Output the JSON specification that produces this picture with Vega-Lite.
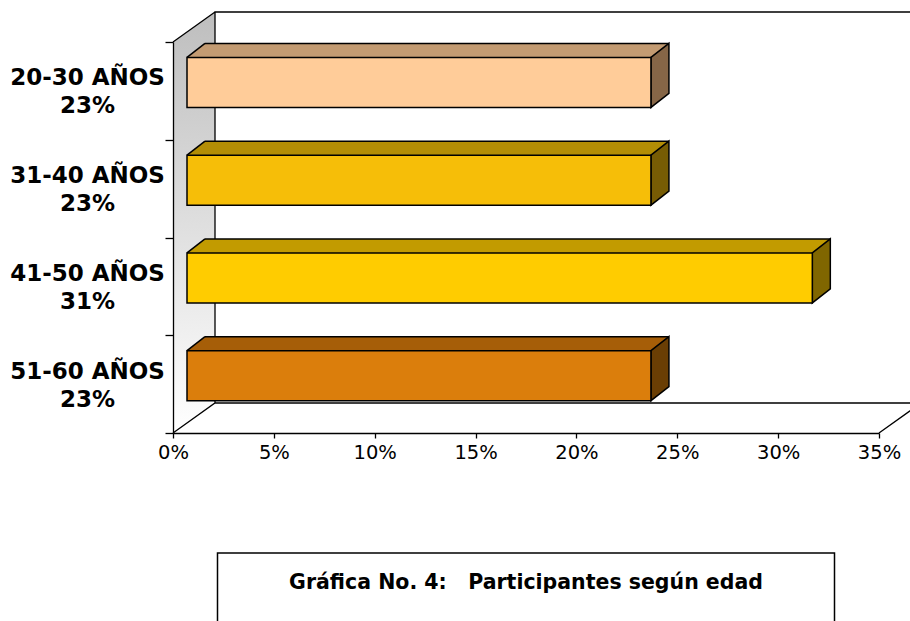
{
  "$schema": "https://vega.github.io/schema/vega-lite/v6.json",
  "background": "white",
  "padding": {"left": 9, "top": 9, "right": 0, "bottom": 0},
  "config": {"view": {"stroke": null}, "font": "DejaVu Sans"},
  "bounds": "flush",
  "center": true,
  "spacing": 120,
  "datasets": {
    "edades": [
      {"edad": "20-30 AÑOS\n23%", "pct": 23},
      {"edad": "31-40 AÑOS\n23%", "pct": 23},
      {"edad": "41-50 AÑOS\n31%", "pct": 31},
      {"edad": "51-60 AÑOS\n23%", "pct": 23}
    ]
  },
  "vconcat": [
    {
      "width": 706,
      "height": 391,
      "data": {"name": "edades"},
      "resolve": {"scale": {"fill": "independent"}},
      "layer": [
        {
          "transform": [{"filter": {"field": "edad", "equal": "51-60 AÑOS\n23%"}}],
          "mark": {"type": "point", "shape": "M0,0 L0,-391 L42,-421 L42,-30 Z", "size": 4, "filled": true, "opacity": 1, "strokeWidth": 0, "yOffset": 48.875,
            "fill": {"gradient": "linear", "x1": 0, "y1": 0, "x2": 0, "y2": 1, "stops": [{"offset": 0, "color": "#BEBEBE"}, {"offset": 1, "color": "#FFFFFF"}]}},
          "encoding": {
            "x": {"datum": 0, "type": "quantitative", "title": null},
            "y": {"field": "edad", "type": "nominal", "sort": null, "title": null}
          }
        },
        {
          "transform": [{"filter": {"field": "edad", "equal": "51-60 AÑOS\n23%"}}],
          "mark": {"type": "point", "shape": "M0,0 L42,-30 L748,-30 M706,0 L748,-30 M42,-30 L42,-421 L748,-421 M0,-391 L42,-421", "size": 4, "filled": false, "fill": null, "opacity": 1, "stroke": "black", "strokeWidth": 1.3, "yOffset": 48.875},
          "encoding": {
            "x": {"datum": 0, "type": "quantitative", "title": null},
            "y": {"field": "edad", "type": "nominal", "sort": null, "title": null}
          }
        },
        {
          "mark": {"type": "bar", "height": 14, "xOffset": 32, "x2Offset": 32, "yOffset": -40.5, "opacity": 1, "strokeWidth": 0},
          "encoding": {
            "x": {"field": "pct", "type": "quantitative", "stack": null, "title": null},
            "x2": {"datum": 0},
            "y": {"field": "edad", "type": "nominal", "sort": null, "title": null},
            "fill": {"field": "edad", "type": "nominal", "legend": null,
              "scale": {"domain": ["20-30 AÑOS\n23%", "31-40 AÑOS\n23%", "41-50 AÑOS\n31%", "51-60 AÑOS\n23%"], "range": ["#C39B72", "#B38D05", "#C29B00", "#A65E08"]}}
          }
        },
        {
          "mark": {"type": "point", "shape": "M0,0 L18,-14 L20,-14 L20,0 Z", "size": 4, "filled": true, "opacity": 1, "strokeWidth": 0, "xOffset": 14, "yOffset": -33.5},
          "encoding": {
            "x": {"datum": 0, "type": "quantitative", "title": null},
            "y": {"field": "edad", "type": "nominal", "sort": null, "title": null},
            "fill": {"field": "edad", "type": "nominal", "legend": null,
              "scale": {"domain": ["20-30 AÑOS\n23%", "31-40 AÑOS\n23%", "41-50 AÑOS\n31%", "51-60 AÑOS\n23%"], "range": ["#C39B72", "#B38D05", "#C29B00", "#A65E08"]}}
          }
        },
        {
          "mark": {"type": "point", "shape": "M0,0 L18,-14", "size": 4, "filled": false, "fill": null, "opacity": 1, "stroke": "black", "strokeWidth": 1.5, "xOffset": 14, "yOffset": -33.5},
          "encoding": {
            "x": {"datum": 0, "type": "quantitative", "title": null},
            "y": {"field": "edad", "type": "nominal", "sort": null, "title": null}
          }
        },
        {
          "mark": {"type": "bar", "height": 1.5, "xOffset": 32, "x2Offset": 32, "yOffset": -47.5, "opacity": 1, "strokeWidth": 0, "fill": "black"},
          "encoding": {
            "x": {"field": "pct", "type": "quantitative", "stack": null, "title": null},
            "x2": {"datum": 0},
            "y": {"field": "edad", "type": "nominal", "sort": null, "title": null}
          }
        },
        {
          "mark": {"type": "point", "shape": "M0,0 L18,-14 L18,36 L0,50 Z", "size": 4, "filled": true, "opacity": 1, "stroke": "black", "strokeWidth": 1.5, "xOffset": 14, "yOffset": -33.5},
          "encoding": {
            "x": {"field": "pct", "type": "quantitative", "title": null},
            "y": {"field": "edad", "type": "nominal", "sort": null, "title": null},
            "fill": {"field": "edad", "type": "nominal", "legend": null,
              "scale": {"domain": ["20-30 AÑOS\n23%", "31-40 AÑOS\n23%", "41-50 AÑOS\n31%", "51-60 AÑOS\n23%"], "range": ["#866647", "#775C04", "#806600", "#6A3E04"]}}
          }
        },
        {
          "mark": {"type": "bar", "height": 50, "xOffset": 14, "x2Offset": 14, "yOffset": -8.5, "opacity": 1, "stroke": "black", "strokeWidth": 1.5},
          "encoding": {
            "x": {"field": "pct", "type": "quantitative", "stack": null, "title": null,
              "scale": {"domain": [0, 35], "nice": false, "zero": true},
              "axis": {"values": [0, 5, 10, 15, 20, 25, 30, 35], "labelExpr": "datum.value + '%'", "grid": false, "zindex": 1,
                "domainColor": "black", "domainWidth": 1.3, "tickColor": "black", "tickSize": 5, "tickWidth": 1.3,
                "labelFont": "DejaVu Sans", "labelFontSize": 19.5, "labelColor": "black", "labelPadding": 5,
                "labelFlush": false, "labelOverlap": false, "title": null}},
            "x2": {"datum": 0},
            "y": {"field": "edad", "type": "nominal", "sort": null, "title": null,
              "scale": {"domain": ["20-30 AÑOS\n23%", "31-40 AÑOS\n23%", "41-50 AÑOS\n31%", "51-60 AÑOS\n23%"], "paddingInner": 0, "paddingOuter": 0},
              "axis": {"tickBand": "extent", "zindex": 1, "domainColor": "black", "domainWidth": 1.3, "tickColor": "black", "tickSize": 8, "tickWidth": 1.3,
                "labelExpr": "split(datum.label, '\\n')", "labelAlign": "center", "labelBaseline": "middle", "labelPadding": 78, "labelOffset": -13,
                "labelFont": "DejaVu Sans", "labelFontWeight": "bold", "labelFontSize": 23, "labelLineHeight": 28, "labelColor": "black", "labelLimit": 300, "title": null}},
            "fill": {"field": "edad", "type": "nominal", "legend": null,
              "scale": {"domain": ["20-30 AÑOS\n23%", "31-40 AÑOS\n23%", "41-50 AÑOS\n31%", "51-60 AÑOS\n23%"], "range": ["#FFCC99", "#F6BE08", "#FFCC00", "#DB7E0C"]}}
          }
        }
      ]
    },
    {
      "width": 617,
      "height": 100,
      "view": {"stroke": "black", "strokeWidth": 1.5},
      "data": {"values": [{"t": "Gráfica No. 4:\u00a0\u00a0\u00a0Participantes según edad"}]},
      "mark": {"type": "text", "font": "DejaVu Sans", "fontWeight": "bold", "fontSize": 20.5, "align": "center", "baseline": "alphabetic", "color": "black"},
      "encoding": {
        "text": {"field": "t"},
        "x": {"datum": 0.5, "type": "quantitative", "scale": {"domain": [0, 1]}, "axis": null},
        "y": {"datum": 0.64, "type": "quantitative", "scale": {"domain": [0, 1]}, "axis": null}
      }
    }
  ]
}
